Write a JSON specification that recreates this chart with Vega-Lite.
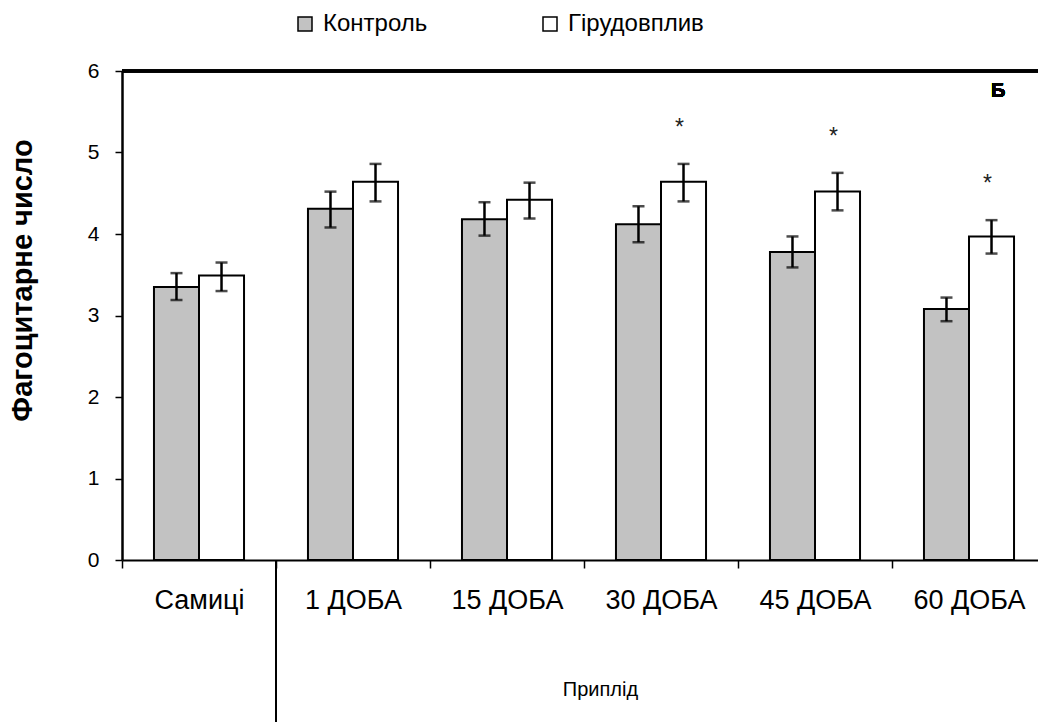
{
  "$schema": "https://vega.github.io/schema/vega-lite/v6.json",
  "width": 916,
  "height": 489,
  "autosize": {"type": "none"},
  "padding": {"left": 122, "top": 71, "right": 0, "bottom": 162},
  "background": "white",
  "config": {"view": {"stroke": null}, "font": "Liberation Sans"},
  "data": {
    "values": [
      {"group": "Самиці", "series": "Контроль", "value": 3.35, "lo": 3.19, "hi": 3.52, "star": ""},
      {"group": "Самиці", "series": "Гірудовплив", "value": 3.49, "lo": 3.30, "hi": 3.65, "star": ""},
      {"group": "1 ДОБА", "series": "Контроль", "value": 4.31, "lo": 4.08, "hi": 4.52, "star": ""},
      {"group": "1 ДОБА", "series": "Гірудовплив", "value": 4.64, "lo": 4.40, "hi": 4.86, "star": ""},
      {"group": "15 ДОБА", "series": "Контроль", "value": 4.18, "lo": 3.98, "hi": 4.39, "star": ""},
      {"group": "15 ДОБА", "series": "Гірудовплив", "value": 4.42, "lo": 4.19, "hi": 4.63, "star": ""},
      {"group": "30 ДОБА", "series": "Контроль", "value": 4.12, "lo": 3.90, "hi": 4.34, "star": ""},
      {"group": "30 ДОБА", "series": "Гірудовплив", "value": 4.64, "lo": 4.40, "hi": 4.86, "star": "*"},
      {"group": "45 ДОБА", "series": "Контроль", "value": 3.78, "lo": 3.59, "hi": 3.97, "star": ""},
      {"group": "45 ДОБА", "series": "Гірудовплив", "value": 4.52, "lo": 4.29, "hi": 4.75, "star": "*"},
      {"group": "60 ДОБА", "series": "Контроль", "value": 3.08, "lo": 2.93, "hi": 3.22, "star": ""},
      {"group": "60 ДОБА", "series": "Гірудовплив", "value": 3.97, "lo": 3.76, "hi": 4.17, "star": "*"}
    ]
  },
  "layer": [
    {
      "mark": {"type": "bar", "stroke": "black", "strokeWidth": 2, "opacity": 1},
      "encoding": {
        "x": {
          "field": "group", "type": "nominal",
          "sort": ["Самиці", "1 ДОБА", "15 ДОБА", "30 ДОБА", "45 ДОБА", "60 ДОБА"],
          "scale": {"range": [0, 924], "paddingInner": 0, "paddingOuter": 0},
          "axis": {
            "title": "Приплід", "titleX": 478, "titleY": 129, "titleFontSize": 20, "titleFontWeight": "normal",
            "titleBaseline": "middle", "titleAlign": "center", "titleColor": "black",
            "labelFontSize": 27, "labelAngle": 0, "labelPadding": 19, "labelColor": "black", "labelOverlap": false,
            "tickSize": 8, "tickBand": "extent", "tickColor": "black", "tickWidth": 1.5,
            "domainWidth": 2, "domainColor": "black", "grid": false
          }
        },
        "xOffset": {"field": "series", "type": "nominal", "sort": ["Контроль", "Гірудовплив"], "scale": {"paddingOuter": 0.71, "paddingInner": 0}},
        "y": {
          "field": "value", "type": "quantitative",
          "scale": {"domain": [0, 6], "nice": false},
          "axis": {
            "title": "Фагоцитарне число", "values": [0, 1, 2, 3, 4, 5, 6], "format": "d",
            "tickSize": 7, "tickWidth": 1.5, "tickColor": "black",
            "labelFontSize": 21, "labelPadding": 16, "labelColor": "black",
            "domainWidth": 2.5, "domainColor": "black", "grid": false,
            "titleFontSize": 29, "titleFontWeight": "bold", "titleColor": "black",
            "titleX": -100, "titleY": 209, "titleAngle": -90, "titleBaseline": "middle", "titleAlign": "center"
          }
        },
        "fill": {
          "field": "series", "type": "nominal",
          "scale": {"domain": ["Контроль", "Гірудовплив"], "range": ["#c2c2c2", "#ffffff"]},
          "legend": {
            "title": null, "orient": "none", "legendX": 171, "legendY": -59, "direction": "horizontal",
            "symbolType": "square", "symbolSize": 196, "symbolStrokeColor": "black", "symbolStrokeWidth": 1.5,
            "labelFontSize": 24, "labelColor": "black", "labelOffset": 6, "columnPadding": 110
          }
        }
      }
    },
    {
      "mark": {"type": "rule", "color": "black", "strokeWidth": 2.5},
      "encoding": {
        "x": {"field": "group", "type": "nominal", "sort": ["Самиці", "1 ДОБА", "15 ДОБА", "30 ДОБА", "45 ДОБА", "60 ДОБА"]},
        "xOffset": {"field": "series", "type": "nominal", "sort": ["Контроль", "Гірудовплив"]},
        "y": {"field": "lo", "type": "quantitative"},
        "y2": {"field": "hi"}
      }
    },
    {
      "mark": {"type": "tick", "color": "black", "size": 12, "thickness": 2.5, "orient": "horizontal"},
      "encoding": {
        "x": {"field": "group", "type": "nominal", "sort": ["Самиці", "1 ДОБА", "15 ДОБА", "30 ДОБА", "45 ДОБА", "60 ДОБА"]},
        "xOffset": {"field": "series", "type": "nominal", "sort": ["Контроль", "Гірудовплив"]},
        "y": {"field": "lo", "type": "quantitative"}
      }
    },
    {
      "mark": {"type": "tick", "color": "black", "size": 12, "thickness": 2.5, "orient": "horizontal"},
      "encoding": {
        "x": {"field": "group", "type": "nominal", "sort": ["Самиці", "1 ДОБА", "15 ДОБА", "30 ДОБА", "45 ДОБА", "60 ДОБА"]},
        "xOffset": {"field": "series", "type": "nominal", "sort": ["Контроль", "Гірудовплив"]},
        "y": {"field": "hi", "type": "quantitative"}
      }
    },
    {
      "transform": [{"filter": "datum.star != ''"}],
      "mark": {"type": "text", "fontSize": 23, "color": "#222", "dy": -29, "dx": -4, "baseline": "alphabetic"},
      "encoding": {
        "x": {"field": "group", "type": "nominal", "sort": ["Самиці", "1 ДОБА", "15 ДОБА", "30 ДОБА", "45 ДОБА", "60 ДОБА"]},
        "xOffset": {"field": "series", "type": "nominal", "sort": ["Контроль", "Гірудовплив"]},
        "y": {"field": "hi", "type": "quantitative"},
        "text": {"field": "star"}
      }
    },
    {
      "mark": {"type": "rule", "color": "black", "strokeWidth": 2.5},
      "encoding": {"y": {"datum": 6}}
    },
    {
      "mark": {"type": "rule", "color": "black", "strokeWidth": 2},
      "encoding": {
        "x": {"datum": "1 ДОБА", "type": "nominal", "bandPosition": 0},
        "y": {"datum": 0},
        "y2": {"datum": -2.1}
      }
    },
    {
      "mark": {"type": "text", "fontSize": 20, "fontWeight": "bold", "color": "black", "baseline": "middle", "align": "center"},
      "encoding": {
        "x": {"datum": "60 ДОБА", "type": "nominal", "bandPosition": 0.69},
        "y": {"datum": 5.75},
        "text": {"value": "Б"}
      }
    }
  ]
}
